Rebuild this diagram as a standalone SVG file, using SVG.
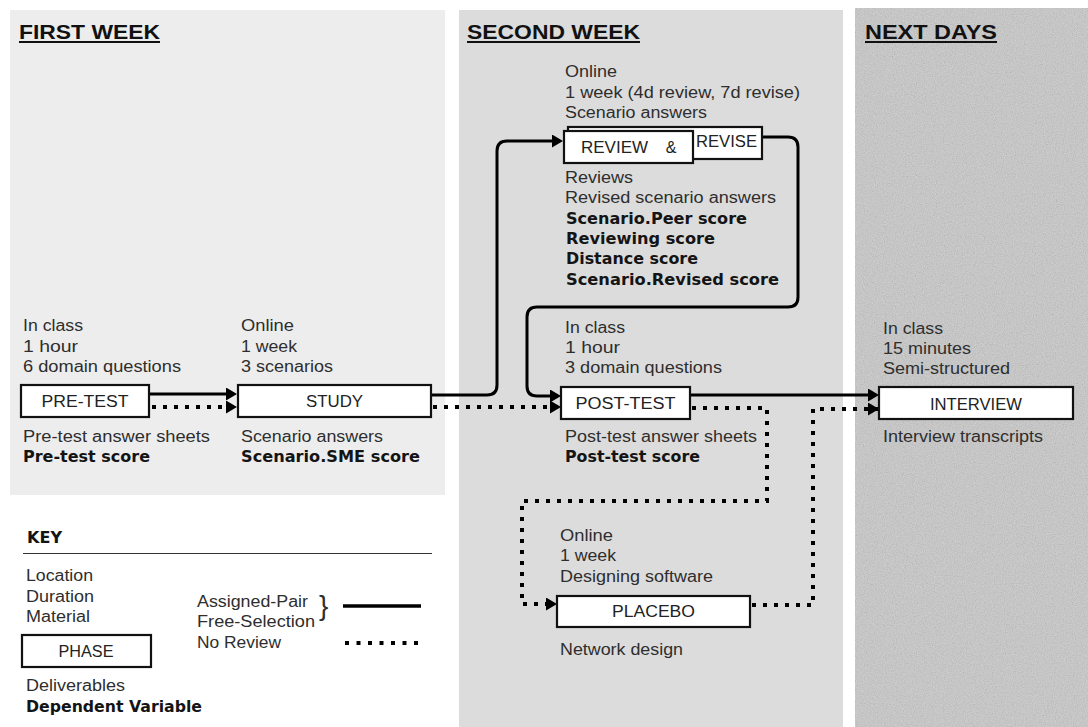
<svg xmlns="http://www.w3.org/2000/svg" width="1088" height="727" viewBox="0 0 1088 727">
<style>
.t{font-family:"Liberation Sans",Arial,sans-serif;font-size:16px;fill:#2e2e2e}
.b{font-family:"DejaVu Sans","Liberation Sans",sans-serif;font-weight:bold;font-size:15px;fill:#141414}
.h{font-family:"Liberation Sans",Arial,sans-serif;font-weight:bold;font-size:21px;fill:#111}
.ul{stroke:#111;stroke-width:2}
.box{fill:#fff;stroke:#111;stroke-width:2.2}
.lbl{font-family:"Liberation Sans",Arial,sans-serif;font-size:16px;fill:#222;text-anchor:middle}
.solid{fill:none;stroke:#000;stroke-width:3}
.dot{fill:none;stroke:#000;stroke-width:4;stroke-dasharray:4 7}
</style>
<defs>
<marker id="arr" markerUnits="userSpaceOnUse" markerWidth="12" markerHeight="14" refX="8" refY="6.5" orient="auto">
<path d="M0,0 L11,6.5 L0,13 z" fill="#000"/>
</marker>
<marker id="arrd" markerUnits="userSpaceOnUse" markerWidth="12" markerHeight="14" refX="11" refY="6.5" orient="auto">
<path d="M0,0 L11,6.5 L0,13 z" fill="#000"/>
</marker>
<filter id="noise" x="0" y="0" width="100%" height="100%">
<feTurbulence type="fractalNoise" baseFrequency="0.9" numOctaves="2" seed="4" result="n"/>
<feColorMatrix in="n" type="matrix" values="1 0 0 0 0  1 0 0 0 0  1 0 0 0 0  0 0 0 0 0.2"/>
</filter>
</defs>
<rect width="1088" height="727" fill="#fff"/>

<g id="panel-first-week">
<rect x="10" y="10" width="435" height="485" fill="#ededed"/>
<text class="h" x="19" y="39" textLength="141" lengthAdjust="spacingAndGlyphs">FIRST WEEK</text>
<line class="ul" x1="19" y1="42" x2="160" y2="42"/>
</g>
<g id="panel-second-week">
<rect x="459" y="10" width="384" height="717" fill="#dcdcdc"/>
<text class="h" x="467" y="39" textLength="173" lengthAdjust="spacingAndGlyphs">SECOND WEEK</text>
<line class="ul" x1="467" y1="42" x2="640" y2="42"/>
</g>
<g id="panel-next-days">
<rect x="855" y="8" width="233" height="719" fill="#c8c8c8"/>
<rect x="855" y="8" width="233" height="719" filter="url(#noise)"/>
<text class="h" x="865" y="39" textLength="132" lengthAdjust="spacingAndGlyphs">NEXT DAYS</text>
<line class="ul" x1="865" y1="42" x2="997" y2="42"/>
</g>

<g id="connectors">
<path class="solid" d="M149,394 H234" marker-end="url(#arr)"/>
<path class="dot" d="M152,407 H237" marker-end="url(#arrd)"/>
<path class="solid" d="M431,395 H487 Q497,395 497,385 V151 Q497,141 507,141 H560" marker-end="url(#arr)"/>
<path class="dot" d="M433,407 H561" marker-end="url(#arrd)"/>
<path class="solid" d="M762,137 H788 Q798,137 798,147 V297 Q798,307 788,307 H537 Q527,307 527,317 V386 Q527,396 537,396 H558" marker-end="url(#arr)"/>
<path class="solid" d="M690,395 H876" marker-end="url(#arr)"/>
<path class="dot" d="M692,408 H767 V501 H522 V604 H557" marker-end="url(#arrd)"/>
<path class="dot" d="M752,605 H813 V409 H879" marker-end="url(#arrd)"/>
</g>

<g id="node-pretest">
<text class="t" x="23" y="331" textLength="60" lengthAdjust="spacingAndGlyphs">In class</text>
<text class="t" x="23" y="352" textLength="55" lengthAdjust="spacingAndGlyphs">1 hour</text>
<text class="t" x="23" y="372" textLength="158" lengthAdjust="spacingAndGlyphs">6 domain questions</text>
<rect class="box" x="21" y="385" width="128" height="32"/>
<text class="lbl" x="85" y="407" textLength="87" lengthAdjust="spacingAndGlyphs">PRE-TEST</text>
<text class="t" x="23" y="442" textLength="187" lengthAdjust="spacingAndGlyphs">Pre-test answer sheets</text>
<text class="b" x="23" y="462" textLength="127" lengthAdjust="spacingAndGlyphs">Pre-test score</text>
</g>

<g id="node-study">
<text class="t" x="241" y="331" textLength="53" lengthAdjust="spacingAndGlyphs">Online</text>
<text class="t" x="241" y="352" textLength="56" lengthAdjust="spacingAndGlyphs">1 week</text>
<text class="t" x="241" y="372" textLength="92" lengthAdjust="spacingAndGlyphs">3 scenarios</text>
<rect class="box" x="238" y="385" width="193" height="32"/>
<text class="lbl" x="334.5" y="407" textLength="57" lengthAdjust="spacingAndGlyphs">STUDY</text>
<text class="t" x="241" y="442" textLength="142" lengthAdjust="spacingAndGlyphs">Scenario answers</text>
<text class="b" x="241" y="462" textLength="179" lengthAdjust="spacingAndGlyphs">Scenario.SME score</text>
</g>

<g id="node-review-revise">
<text class="t" x="565" y="77" textLength="52" lengthAdjust="spacingAndGlyphs">Online</text>
<text class="t" x="565" y="98" textLength="235" lengthAdjust="spacingAndGlyphs">1 week (4d review, 7d revise)</text>
<text class="t" x="565" y="118" textLength="142" lengthAdjust="spacingAndGlyphs">Scenario answers</text>
<rect class="box" x="568" y="127" width="194" height="32"/>
<text class="lbl" x="726.5" y="147" textLength="61" lengthAdjust="spacingAndGlyphs">REVISE</text>
<rect class="box" x="564" y="131" width="129" height="32"/>
<text class="lbl" x="614.5" y="153" textLength="67" lengthAdjust="spacingAndGlyphs">REVIEW</text>
<text class="lbl" x="671" y="153">&amp;</text>
<text class="t" x="565" y="183" textLength="68" lengthAdjust="spacingAndGlyphs">Reviews</text>
<text class="t" x="565" y="203" textLength="211" lengthAdjust="spacingAndGlyphs">Revised scenario answers</text>
<text class="b" x="566" y="224" textLength="181" lengthAdjust="spacingAndGlyphs">Scenario.Peer score</text>
<text class="b" x="566" y="244" textLength="149" lengthAdjust="spacingAndGlyphs">Reviewing score</text>
<text class="b" x="566" y="264" textLength="132" lengthAdjust="spacingAndGlyphs">Distance score</text>
<text class="b" x="566" y="285" textLength="213" lengthAdjust="spacingAndGlyphs">Scenario.Revised score</text>
</g>

<g id="node-posttest">
<text class="t" x="565" y="333" textLength="60" lengthAdjust="spacingAndGlyphs">In class</text>
<text class="t" x="565" y="353" textLength="55" lengthAdjust="spacingAndGlyphs">1 hour</text>
<text class="t" x="565" y="373" textLength="157" lengthAdjust="spacingAndGlyphs">3 domain questions</text>
<rect class="box" x="561" y="387" width="129" height="32"/>
<text class="lbl" x="625.5" y="409" textLength="100" lengthAdjust="spacingAndGlyphs">POST-TEST</text>
<text class="t" x="565" y="442" textLength="192" lengthAdjust="spacingAndGlyphs">Post-test answer sheets</text>
<text class="b" x="565" y="462" textLength="135" lengthAdjust="spacingAndGlyphs">Post-test score</text>
</g>

<g id="node-placebo">
<text class="t" x="560" y="541" textLength="53" lengthAdjust="spacingAndGlyphs">Online</text>
<text class="t" x="560" y="561" textLength="56" lengthAdjust="spacingAndGlyphs">1 week</text>
<text class="t" x="560" y="582" textLength="153" lengthAdjust="spacingAndGlyphs">Designing software</text>
<rect class="box" x="557" y="596" width="193" height="31"/>
<text class="lbl" x="653.5" y="617" textLength="83" lengthAdjust="spacingAndGlyphs">PLACEBO</text>
<text class="t" x="560" y="655" textLength="123" lengthAdjust="spacingAndGlyphs">Network design</text>
</g>

<g id="node-interview">
<text class="t" x="883" y="334" textLength="60" lengthAdjust="spacingAndGlyphs">In class</text>
<text class="t" x="883" y="354" textLength="88" lengthAdjust="spacingAndGlyphs">15 minutes</text>
<text class="t" x="883" y="374" textLength="127" lengthAdjust="spacingAndGlyphs">Semi-structured</text>
<rect class="box" x="879" y="387" width="194" height="32"/>
<text class="lbl" x="976" y="410" textLength="92" lengthAdjust="spacingAndGlyphs">INTERVIEW</text>
<text class="t" x="883" y="442" textLength="160" lengthAdjust="spacingAndGlyphs">Interview transcripts</text>
</g>

<g id="key">
<text class="b" x="27" y="543" textLength="35" lengthAdjust="spacingAndGlyphs">KEY</text>
<line x1="23" y1="553.5" x2="432" y2="553.5" stroke="#333" stroke-width="1"/>
<text class="t" x="26" y="581" textLength="67" lengthAdjust="spacingAndGlyphs">Location</text>
<text class="t" x="26" y="602" textLength="68" lengthAdjust="spacingAndGlyphs">Duration</text>
<text class="t" x="26" y="622" textLength="64" lengthAdjust="spacingAndGlyphs">Material</text>
<rect class="box" x="22" y="635" width="129" height="32"/>
<text class="lbl" x="86" y="657" textLength="55" lengthAdjust="spacingAndGlyphs">PHASE</text>
<text class="t" x="26" y="691" textLength="99" lengthAdjust="spacingAndGlyphs">Deliverables</text>
<text class="b" x="26" y="712" textLength="176" lengthAdjust="spacingAndGlyphs">Dependent Variable</text>
<text class="t" x="197" y="607" textLength="111" lengthAdjust="spacingAndGlyphs">Assigned-Pair</text>
<text class="t" x="197" y="627" textLength="118" lengthAdjust="spacingAndGlyphs">Free-Selection</text>
<text class="t" x="197" y="648" textLength="84" lengthAdjust="spacingAndGlyphs">No Review</text>
<text class="t" x="319" y="615" style="font-size:28px">}</text>
<line x1="343" y1="606" x2="421" y2="606" stroke="#000" stroke-width="3.5"/>
<path class="dot" d="M345,643 H418" style="stroke-dasharray:4 7.5"/>
</g>
</svg>
